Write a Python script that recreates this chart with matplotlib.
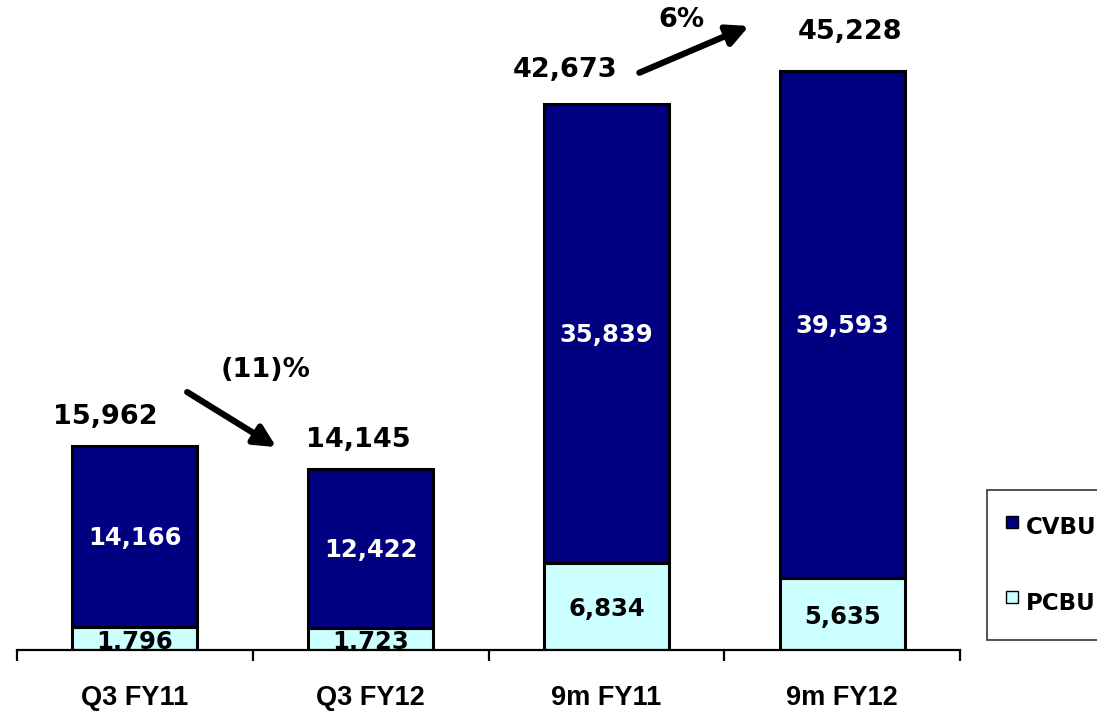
import matplotlib.pyplot as plt
from matplotlib.lines import Line2D

categories = ["Q3 FY11", "Q3 FY12", "9m FY11", "9m FY12"]
pcbu = [1796, 1723, 6834, 5635]
cvbu = [14166, 12422, 35839, 39593]
totals = [15962, 14145, 42673, 45228]
growth = ["(11)%", "6%"]

navy = "#000080"
cyan = "#CCFFFF"

fig = plt.figure(figsize=(10.97, 7.13), dpi=100)
ax = fig.add_axes([17 / 1097, 63 / 713, 943 / 1097, 650 / 713])

x = range(len(categories))
ax.bar(x, pcbu, width=0.53, color=cyan, edgecolor="black", linewidth=2.2, zorder=2)
ax.bar(x, cvbu, width=0.53, bottom=pcbu, color=navy, edgecolor="black", linewidth=2.2, zorder=2)

# segment labels
for i in x:
    ax.text(i, pcbu[i] / 2 - 250, f"{pcbu[i]:,}", ha="center", va="center", fontsize=17.5,
            fontweight="bold", color="black", clip_on=True, zorder=3)
    ax.text(i, pcbu[i] + cvbu[i] / 2 - 150, f"{cvbu[i]:,}", ha="center", va="center",
            fontsize=17.5, fontweight="bold", color="white", zorder=3)

# totals (offset positions relative to bar centre)
tot_dx = [-0.127, -0.051, -0.174, 0.035]
tot_y = [18200, 16400, 45300, 48300]
for i in x:
    ax.text(i + tot_dx[i], tot_y[i], f"{totals[i]:,}", ha="center", va="center",
            fontsize=19.5, fontweight="bold")

# growth arrows
arrow = dict(arrowstyle="-|>", lw=4.5, mutation_scale=32, color="black", shrinkA=0, shrinkB=0)
ax.annotate("", xy=(0.600, 15850), xytext=(0.222, 20150), arrowprops=arrow)
ax.annotate("", xy=(2.605, 48750), xytext=(2.14, 45100), arrowprops=arrow)
ax.text(0.555, 21900, growth[0], ha="center", va="center", fontsize=19.5, fontweight="bold")
ax.text(2.32, 49250, growth[1], ha="center", va="center", fontsize=19.5, fontweight="bold")

ax.set_xlim(-0.5, 3.5)
ax.set_ylim(0, 50780)
for s in ["left", "top", "right"]:
    ax.spines[s].set_visible(False)
ax.spines["bottom"].set_linewidth(1.6)
ax.set_yticks([])
ax.set_xticks(list(x))
ax.set_xticklabels(categories, fontsize=19.5, fontweight="bold", family="Liberation Sans")
ax.tick_params(axis="x", which="major", length=0, pad=25)
ax.set_xticks([-0.5, 0.5, 1.5, 2.5, 3.5], minor=True)
ax.tick_params(axis="x", which="minor", length=8, width=1.6, direction="out")

handles = [
    Line2D([], [], marker="s", linestyle="none", markersize=9, markerfacecolor=navy,
           markeredgecolor="black", markeredgewidth=1),
    Line2D([], [], marker="s", linestyle="none", markersize=9, markerfacecolor=cyan,
           markeredgecolor="black", markeredgewidth=1),
]
leg = fig.legend(handles, ["CVBU", "PCBU"], loc="upper left",
                 bbox_to_anchor=(987 / 1097, 1 - 490 / 713, 180 / 1097, 0.0), mode="expand",
                 prop={"weight": "bold", "size": 16.5}, frameon=True, fancybox=False,
                 edgecolor="black", borderpad=0.85, handlelength=0.45, handleheight=2.0,
                 labelspacing=1.75, handletextpad=0.4, borderaxespad=0)
leg.get_frame().set_linewidth(1.2)

fig.savefig("out.png", dpi=100)
